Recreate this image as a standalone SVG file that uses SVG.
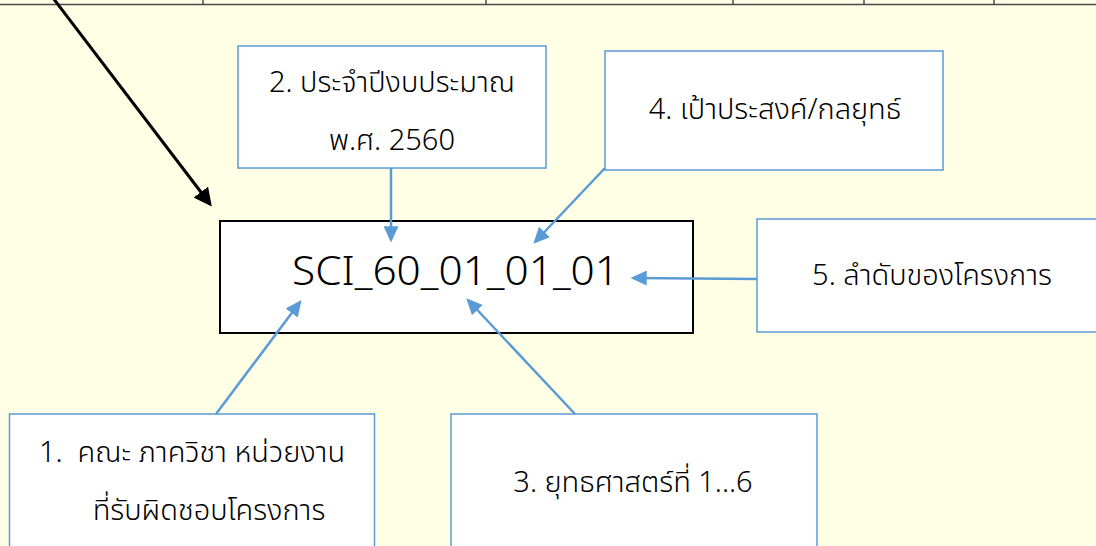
<svg xmlns="http://www.w3.org/2000/svg" width="1096" height="546" viewBox="0 0 1096 546">
<defs>
<style>
.bg{fill:#FFFFE6}
.box{fill:#FFFFFF;stroke:#5B9BD5;stroke-width:1.5}
.main{fill:#FFFFFF;stroke:#000000;stroke-width:2}
.t{font-family:"Noto Sans Thai","Noto Sans","DejaVu Sans",sans-serif;font-size:29px;font-weight:300;fill:#000000}
.code{font-family:"Noto Sans","DejaVu Sans",sans-serif;font-size:40px;font-weight:300;fill:#000000}
.blue{stroke:#5B9BD5;stroke-width:2.5;fill:none;marker-end:url(#ab)}
.blk{stroke:#000000;stroke-width:3;fill:none;marker-end:url(#ak)}
.tab{stroke:#4A4A4A;stroke-width:1.5;fill:none}
</style>
<marker id="ab" markerWidth="6.5" markerHeight="6" refX="5.5" refY="3" orient="auto" markerUnits="strokeWidth">
<path d="M0,0 L6.5,3 L0,6 Z" fill="#5B9BD5"/>
</marker>
<marker id="ak" markerWidth="6" markerHeight="6" refX="5" refY="3" orient="auto" markerUnits="strokeWidth">
<path d="M0,0 L6,3 L0,6 Z" fill="#000000"/>
</marker>
</defs>
<rect class="bg" x="0" y="0" width="1096" height="546"/>
<g id="table-edge">
<line class="tab" x1="0" y1="4.5" x2="1096" y2="4.5"/>
<line class="tab" x1="203" y1="0" x2="203" y2="4.5"/>
<line class="tab" x1="486" y1="0" x2="486" y2="4.5"/>
<line class="tab" x1="733" y1="0" x2="733" y2="4.5"/>
<line class="tab" x1="864" y1="0" x2="864" y2="4.5"/>
<line class="tab" x1="994" y1="0" x2="994" y2="4.5"/>
</g>
<g id="node-code">
<rect class="main" x="220" y="221" width="473" height="112"/>
<text class="code" x="292" y="285" textLength="327" lengthAdjust="spacingAndGlyphs">SCI_60_01_01_01</text>
</g>
<g id="node-2">
<rect class="box" x="238" y="46" width="308" height="122"/>
<text class="t" x="392" y="92" text-anchor="middle">2. ประจำปีงบประมาณ</text>
<text class="t" x="392" y="150" text-anchor="middle">พ.ศ. 2560</text>
</g>
<g id="node-4">
<rect class="box" x="605" y="51" width="338" height="119"/>
<text class="t" x="775" y="119" text-anchor="middle">4. เป้าประสงค์/กลยุทธ์</text>
</g>
<g id="node-5">
<rect class="box" x="757" y="219" width="345" height="113"/>
<text class="t" x="932" y="285" text-anchor="middle">5. ลำดับของโครงการ</text>
</g>
<g id="node-1">
<rect class="box" x="9.5" y="414" width="365" height="140"/>
<text class="t" x="192" y="462" text-anchor="middle" xml:space="preserve">1.  คณะ ภาควิชา หน่วยงาน</text>
<text class="t" x="209" y="520" text-anchor="middle">ที่รับผิดชอบโครงการ</text>
</g>
<g id="node-3">
<rect class="box" x="451" y="414" width="366" height="140"/>
<text class="t" x="633" y="492" text-anchor="middle">3. ยุทธศาสตร์ที่ 1...6</text>
</g>
<g id="connectors">
<line class="blk" x1="50" y1="-6" x2="210" y2="204"/>
<line class="blue" x1="391" y1="168" x2="391" y2="240"/>
<line class="blue" x1="605" y1="168" x2="535" y2="242"/>
<line class="blue" x1="757" y1="279" x2="633" y2="278"/>
<line class="blue" x1="216" y1="414" x2="300" y2="302"/>
<line class="blue" x1="575" y1="414" x2="468" y2="300"/>
</g>
</svg>
